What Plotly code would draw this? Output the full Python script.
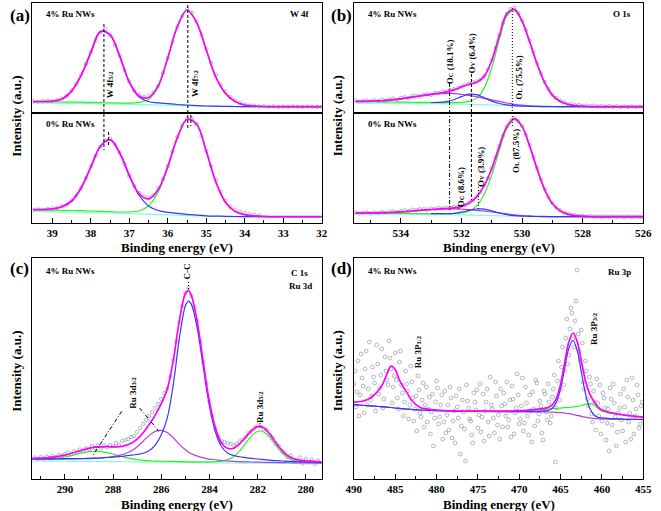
import plotly.graph_objects as go

# ======================= DATA =======================
# Intensities are in arbitrary units (a.u.)

# ---- (a) W 4f : fit grid (binding energy, eV)
a_fit_x = [39.5, 39.25, 39.0, 38.75, 38.5, 38.25, 38.0, 37.75, 37.5, 37.25, 37.0,
           36.75, 36.5, 36.25, 36.0, 35.75, 35.5, 35.25, 35.0, 34.75, 34.5, 34.25,
           34.0, 33.75, 33.5, 33.25, 33.0, 32.75, 32.5, 32.25, 32.0]
# 4% Ru NWs
a4_total = [11.3, 11.5, 11.9, 14.0, 21.9, 37.8, 60.6, 81.4, 78.1, 56.9, 30.9, 17.1, 15.5,
            27.1, 55.3, 86.5, 103.0, 90.4, 63.0, 35.8, 19.6, 11.5, 8.0, 7.0, 6.5, 6.3,
            6.3, 6.3, 6.3, 6.3, 6.3]
a4_w72 = [11.3, 11.2, 11.1, 11.0, 10.9, 10.8, 10.6, 10.4, 10.1, 9.9, 9.9, 10.6, 13.5, 26.3,
          55.0, 86.5, 103.0, 90.4, 63.0, 35.8, 19.6, 11.5, 8.0, 7.0, 6.5, 6.3, 6.3, 6.3,
          6.3, 6.3, 6.3]
a4_w52 = [None, None, None, 14.0, 21.9, 37.8, 60.6, 81.4, 78.1, 56.9, 30.7, 16.1, 11.5,
          10.1, 9.3, 8.5, 8.0, 7.4, 7.0, 6.8, 6.6, 6.5, 6.4, 6.4, 6.3, 6.3, 6.3, 6.3, 6.3,
          6.3, 6.3]
a4_base = [10.0, 9.9, 9.8, 9.7, 9.6, 9.5, 9.4, 9.2, 9.0, 8.8, 8.6, 8.4, 8.2, 8.0, 7.8, 7.5,
           7.2, 7.0, 6.8, 6.6, 6.5, 6.4, 6.3, 6.3, 6.3, 6.2, 6.2, 6.2, 6.2, 6.2, 6.2]
# 0% Ru NWs
a0_total = [13.3, 13.5, 14.1, 16.2, 22.0, 35.3, 56.0, 76.7, 83.3, 70.0, 47.7, 29.5, 24.1,
            33.5, 56.6, 85.6, 103.7, 98.8, 71.7, 40.9, 20.7, 11.5, 8.4, 7.1, 6.6, 6.3,
            6.3, 6.3, 6.3, 6.3, 6.3]
a0_w72 = [13.0, 12.9, 12.8, 12.7, 12.5, 12.3, 12.0, 11.7, 11.3, 11.0, 11.2, 12.0, 17.3,
          31.0, 55.6, 85.1, 103.5, 98.8, 71.7, 40.9, 20.7, 11.5, 8.4, 7.1, 6.6, 6.3, 6.3,
          6.3, 6.3, 6.3, 6.3]
a0_w52 = [None, None, None, 16.2, 22.0, 35.3, 56.0, 76.7, 83.3, 70.0, 47.2, 28.0, 17.1,
          12.5, 10.6, 9.6, 8.7, 7.8, 7.2, 6.9, 6.7, 6.5, 6.4, 6.3, 6.3, 6.3, 6.3, 6.3, 6.3,
          6.3, 6.3]
a0_base = [11.5, 11.4, 11.3, 11.2, 11.0, 10.8, 10.6, 10.3, 10.0, 9.7, 9.4, 9.1, 8.8, 8.5,
           8.2, 7.8, 7.4, 7.1, 6.8, 6.6, 6.4, 6.3, 6.2, 6.1, 6.0, 6.0, 6.0, 6.0, 6.0, 6.0, 6.0]
# measured points, every 0.125 eV from 39.5 eV
a_data_start = 39.5
a4_data = [11.6, 11.0, 11.8, 12.3, 11.7, 12.8, 14.5, 17.0, 22.5, 29.0,
           38.5, 49.0, 61.0, 72.0, 80.5, 84.0, 77.5, 68.0, 57.5, 43.0,
           31.5, 22.5, 18.0, 16.0, 17.0, 20.5, 27.0, 40.0, 55.0, 71.5,
           86.0, 97.0, 104.0, 100.0, 91.5, 78.0, 64.0, 50.0, 38.0, 28.5,
           21.5, 16.0, 12.5, 10.0, 8.5, 7.5, 7.2, 6.5, 6.8, 6.2,
           6.6, 6.0, 6.4, 6.1, 6.5, 6.2, 6.0, 6.4, 6.2, 6.0, 6.3]
a0_data = [12.8, 13.6, 13.2, 14.0, 14.6, 15.0, 16.8, 18.5, 22.5, 27.5,
           35.0, 45.0, 56.5, 67.0, 76.0, 82.5, 84.5, 78.5, 70.5, 59.0,
           47.0, 37.0, 30.0, 26.5, 25.5, 28.0, 34.5, 44.0, 57.0, 71.5,
           86.0, 97.5, 104.0, 104.5, 99.0, 87.0, 72.0, 57.0, 43.0, 31.5,
           22.5, 16.5, 13.5, 11.5, 10.0, 9.0, 8.2, 7.5]
a4_peaks = [37.66, 35.48]
a0_peaks = [37.54, 35.40]

# ---- (b) O 1s
b_fit_x = [535.5, 535.25, 535.0, 534.75, 534.5, 534.25, 534.0, 533.75, 533.5, 533.25,
           533.0, 532.75, 532.5, 532.25, 532.0, 531.75, 531.5, 531.25, 531.0, 530.75,
           530.5, 530.25, 530.0, 529.75, 529.5, 529.25, 529.0, 528.75, 528.5, 528.25,
           528.0, 527.75, 527.5, 527.25, 527.0, 526.75, 526.5, 526.25, 526.0]
b4_total = [11.7, 11.7, 11.9, 12.2, 12.6, 13.3, 14.2, 15.3, 16.5, 17.6,
            18.7, 19.7, 21.1, 23.1, 26.1, 28.8, 30.7, 36.6, 52.5, 77.4,
            99.4, 103.6, 92.1, 71.5, 48.8, 30.3, 17.9, 11.85, 8.8, 7.3,
            6.8, 6.5, 6.3, 6.3, 6.3, 6.3, 6.3, 6.3, 6.3]
b4_OL = [11.5, 11.4, 11.3, 11.2, 11.1, 11.0, 10.9, 10.8, 10.7, 10.6,
         10.5, 10.4, 10.4, 10.4, 10.6, 11.6, 14.9, 24.9, 45.3, 73.3,
         97.1, 102.2, 91.2, 71.0, 48.5, 30.15, 17.8, 11.85, 8.8, 7.3,
         6.8, 6.5, 6.3, 6.3, 6.3, 6.3, 6.3, 6.3, 6.3]
b4_OV = [None, None, None, None, None, None, None, None, None, None,
         10.5, 10.6, 11.4, 13.3, 16.4, 18.8, 18.4, 15.4, 11.9, 9.5,
         8.1, 7.3, 6.9, 6.7, 6.5, 6.45, 6.4, 6.35, 6.3, 6.3,
         6.3, 6.3, 6.3, 6.3, 6.3, 6.3, 6.3, 6.3, 6.3]
b4_OC = [11.7, 11.7, 11.9, 12.2, 12.6, 13.3, 14.2, 15.3, 16.5, 17.6,
         18.7, 19.3, 19.7, 19.4, 18.7, 17.6, 16.2, 14.7, 13.1, 11.6,
         10.0, 8.7, 7.8, 7.2, 6.8, 6.6, 6.5, 6.35, 6.3, 6.3,
         6.3, 6.3, 6.3, 6.3, 6.3, 6.3, 6.3, 6.3, 6.3]
b4_base = [10.0, 9.95, 9.9, 9.85, 9.8, 9.75, 9.7, 9.6, 9.5, 9.4,
           9.3, 9.2, 9.1, 9.0, 8.9, 8.7, 8.5, 8.3, 8.0, 7.7,
           7.3, 7.0, 6.7, 6.5, 6.4, 6.3, 6.3, 6.25, 6.2, 6.2,
           6.2, 6.2, 6.2, 6.2, 6.2, 6.2, 6.2, 6.2, 6.2]
b0_total = [9.9, 10.0, 10.1, 10.2, 10.4, 10.7, 11.1, 11.7, 12.3, 12.9,
            13.5, 13.9, 14.5, 15.1, 16.6, 19.9, 26.1, 37.3, 54.3, 76.6,
            96.4, 104.4, 96.6, 77.2, 53.9, 33.2, 19.4, 12.4, 8.9, 7.4,
            6.8, 6.5, 6.3, 6.3, 6.3, 6.3, 6.3, 6.3, 6.3]
b0_OL = [9.8, 9.8, 9.8, 9.75, 9.7, 9.65, 9.6, 9.55, 9.5, 9.45,
         9.4, 9.3, 9.4, 9.5, 10.0, 11.8, 17.1, 28.75, 48.1, 72.9,
         94.5, 103.3, 96.0, 76.8, 53.7, 33.05, 19.4, 12.35, 8.9, 7.4,
         6.8, 6.5, 6.3, 6.3, 6.3, 6.3, 6.3, 6.3, 6.3]
b0_OV = [None, None, None, None, None, None, None, None, None, None,
         9.4, 9.3, 9.35, 9.7, 10.8, 12.6, 14.0, 13.95, 12.2, 10.0,
         8.4, 7.45, 6.9, 6.7, 6.5, 6.45, 6.4, 6.35, 6.3, 6.3,
         6.3, 6.3, 6.3, 6.3, 6.3, 6.3, 6.3, 6.3, 6.3]
b0_OC = [9.9, 10.0, 10.05, 10.15, 10.4, 10.65, 11.1, 11.65, 12.3, 12.85,
         13.5, 13.9, 14.1, 14.1, 13.8, 13.3, 12.6, 11.85, 11.0, 10.1,
         9.1, 8.2, 7.5, 7.05, 6.7, 6.55, 6.4, 6.35, 6.3, 6.3,
         6.3, 6.3, 6.3, 6.3, 6.3, 6.3, 6.3, 6.3, 6.3]
b0_base = [9.0, 9.0, 8.95, 8.9, 8.85, 8.8, 8.75, 8.7, 8.65, 8.6,
           8.5, 8.4, 8.3, 8.2, 8.1, 7.95, 7.8, 7.6, 7.4, 7.2,
           7.0, 6.8, 6.6, 6.45, 6.35, 6.3, 6.25, 6.2, 6.2, 6.2,
           6.2, 6.2, 6.2, 6.2, 6.2, 6.2, 6.2, 6.2, 6.2]
b_data_start = 535.5
b4_data = [12.5, 11.2, 12.0, 12.6, 11.4, 12.8, 12.0, 13.4, 12.2, 13.8,
           14.5, 13.2, 15.0, 15.8, 14.8, 16.9, 17.5, 16.4, 18.5, 19.0,
           18.2, 20.0, 19.8, 21.5, 21.0, 23.0, 23.8, 24.8, 26.5, 28.3,
           29.5, 30.8, 31.5, 33.0, 37.0, 43.5, 53.0, 65.0, 78.0, 90.0,
           99.0, 104.0, 105.0, 100.0, 92.5, 83.0, 72.5, 61.0, 49.5, 39.5,
           31.0, 24.0, 18.5, 15.0, 12.5, 10.8, 9.2, 8.8, 7.8, 7.9,
           7.2, 7.5, 6.9, 7.4, 6.6, 7.2, 6.5, 7.0, 6.2, 6.8,
           5.9, 6.6, 6.0, 6.7, 5.8, 6.4, 6.1]
b0_data = [10.5, 9.4, 10.2, 10.8, 9.6, 10.6, 10.0, 11.0, 10.3, 11.2,
           11.5, 10.8, 12.0, 12.6, 12.2, 13.3, 13.0, 13.8, 14.0, 13.5,
           14.5, 14.2, 15.0, 14.6, 15.4, 15.0, 16.0, 16.2, 17.2, 18.0,
           20.5, 22.5, 26.5, 31.0, 37.5, 45.0, 54.5, 65.5, 77.0, 87.5,
           96.5, 102.5, 105.0, 102.0, 97.0, 88.0, 78.0, 66.0, 55.0, 43.5,
           34.0, 26.0, 20.0, 15.5, 12.8, 10.5, 9.4, 8.2, 7.9, 7.2,
           7.3, 6.6, 7.0, 6.4, 6.8, 6.0, 6.6, 6.2, 6.9, 6.1,
           6.5, 5.8, 6.6, 6.0, 6.4, 5.9, 6.3]
b4_peaks = [532.39, 531.67, 530.32]          # O_C, O_V, O_L
b0_peaks = [532.09, 531.44, 530.24]
b4_labels = [("O", "C", " (18.1%)"), ("O", "V", " (6.4%)"), ("O", "L", " (75.5%)")]
b0_labels = [("O", "C", " (8.6%)"), ("O", "V", " (3.9%)"), ("O", "L", " (87.5%)")]

# ---- (c) C 1s / Ru 3d
c_fit_x = [291.5, 291.25, 291.0, 290.75, 290.5, 290.25, 290.0, 289.75, 289.5, 289.25,
           289.0, 288.75, 288.5, 288.25, 288.0, 287.75, 287.5, 287.25, 287.0, 286.75,
           286.5, 286.25, 286.0, 285.75, 285.5, 285.25, 285.0, 284.875, 284.75, 284.5,
           284.25, 284.0, 283.75, 283.5, 283.25, 283.0, 282.75, 282.5, 282.25, 282.0,
           281.75, 281.5, 281.25, 281.0, 280.75, 280.5, 280.25, 280.0, 279.75, 279.5,
           279.25]
c_total = [20.5, 20.6, 20.9, 21.2, 21.8, 22.6, 23.9, 25.5, 27.3, 29.0,
           30.7, 31.8, 32.2, 32.3, 32.1, 32.3, 33.4, 35.7, 39.9, 46.2,
           54.4, 63.9, 75.3, 89.9, 118.8, 158.1, 185.5, 188.4, 183.5, 156.4,
           115.9, 77.0, 50.9, 36.0, 30.7, 30.8, 35.1, 41.8, 48.5, 52.4,
           51.2, 45.1, 36.7, 28.9, 23.2, 20.2, 18.9, 18.2, 17.8, 17.4,
           17.2]
c_CC = [20.1, 20.1, 20.1, 20.15, 20.2, 20.25, 20.3, 20.35, 20.5, 20.5,
        20.7, 20.9, 21.1, 21.5, 21.9, 22.3, 23.1, 23.8, 24.5, 25.7,
        28.4, 33.9, 44.3, 61.1, 94.7, 140.4, 173.0, 177.9, 174.6, 149.8,
        110.9, 72.9, 47.05, 32.5, 26.05, 23.5, 22.25, 21.4, 20.65, 20.0,
        19.45, 18.9, 18.35, 18.0, 17.65, 17.3, 17.2, 16.95, 16.8, 16.7,
        16.6]
c_Ru32 = [19.9, 19.9, 19.9, 19.9, 19.9, 19.9, 20.0, 20.05, 20.1, 20.25,
          20.35, 20.65, 21.0, 21.6, 22.3, 23.55, 25.3, 28.0, 32.3, 37.8,
          43.6, 47.6, 48.6, 46.4, 41.3, 34.6, 29.2, 27.1, 25.3, 22.9,
          21.1, 19.9, 19.25, 18.5, 18.05, 17.6, 17.35, 17.15, 17.0, 16.85,
          16.7, 16.6, 16.5, 16.35, 16.25, 16.2, 16.15, 16.05, 16.0, 15.95,
          15.95]
c_green = [19.55, 19.55, 19.63, 19.85, 20.26, 20.96, 22.0, 23.35, 24.9, 26.3,
           27.4, 27.8, 27.46, 26.4, 24.9, 23.2, 21.6, 20.3, 19.3, 18.65,
           18.2, 17.95, 17.75, 17.6, 17.6, 17.45, 17.3, 17.2, 17.15, 17.1,
           17.1, 17.2, 17.45, 17.8, 19.25, 22.3, 27.95, 35.6, 43.15, 47.7,
           47.05, 41.6, 33.75, 26.3, 20.95, 18.4, 17.2, 16.75, 16.4, 16.2,
           16.1]
c_base = [18.0, 18.0, 17.95, 17.9, 17.85, 17.8, 17.75, 17.7, 17.65, 17.6,
          17.55, 17.5, 17.45, 17.4, 17.35, 17.3, 17.25, 17.2, 17.15, 17.1,
          17.05, 17.0, 16.95, 16.9, 16.8, 16.7, 16.6, 16.55, 16.5, 16.4,
          16.3, 16.2, 16.15, 16.1, 16.05, 16.0, 15.95, 15.9, 15.85, 15.8,
          15.75, 15.7, 15.65, 15.6, 15.55, 15.5, 15.45, 15.4, 15.35, 15.3,
          15.3]
c_data_start = 291.25
c_data = [21.5, 19.8, 22.0, 20.5, 22.4, 21.0, 23.0, 21.8, 24.2, 23.0,
          24.8, 26.5, 24.6, 27.8, 26.5, 29.5, 28.2, 30.8, 29.6, 33.0,
          31.0, 33.8, 31.2, 33.5, 31.6, 34.0, 32.8, 36.0, 34.0, 38.0,
          39.0, 40.0, 42.0, 43.0, 47.0, 51.0, 55.0, 59.0, 63.0, 67.0,
          71.0, 75.0, 80.0, 86.0, 90.0, 102.0, 119.0, 138.0, 157.0, 173.0,
          186.0, 191.0, 183.0, 171.0, 158.0, 137.0, 117.0, 96.0, 78.0, 63.0,
          50.0, 42.0, 38.0, 37.0, 36.0, 35.0, 33.5, 35.0, 37.5, 39.0,
          42.0, 46.0, 48.0, 51.0, 53.5, 52.5, 50.0, 49.0, 44.0, 41.0,
          35.5, 33.0, 28.0, 26.5, 22.0, 23.5, 19.0, 17.0, 21.5, 15.5,
          20.0, 16.5, 19.5, 15.0, 18.5]
c_peaks = [284.87, 281.9]      # C-C, Ru 3d5/2

# ---- (d) Ru 3p
d_fit_x = [490, 489, 488, 487.5, 487, 486.5, 486, 485.5, 485, 484.5,
           484, 483.5, 483, 482, 481, 480, 478, 476, 474, 472,
           470, 468, 467, 466.5, 466, 465.5, 465, 464.5, 464, 463.5,
           463, 462.5, 462, 461.5, 461, 460.5, 460, 459, 458, 457,
           456, 455]
d_total = [76.8, 77.7, 81.1, 84.3, 89.0, 95.2, 104.9, 113.0, 109.5, 99.1,
           91.7, 85.3, 78.5, 71.5, 69.8, 69.0, 68.2, 67.9, 67.8, 67.9,
           68.3, 69.7, 70.7, 71.5, 74.1, 80.6, 94.9, 116.2, 136.9, 146.0,
           137.9, 118.4, 98.7, 85.7, 78.0, 72.3, 68.9, 66.4, 64.9, 63.7,
           62.7, 61.9]
d_p32 = [74.3, 73.7, 73.1, 72.8, 72.5, 72.2, 71.9, 71.5, 71.0, 70.6,
         70.2, 69.8, 69.5, 69.0, 68.6, 68.3, 67.9, 67.7, 67.5, 67.4,
         67.3, 67.7, 68.1, 68.5, 70.7, 76.7, 90.4, 110.9, 130.6, 138.5,
         128.9, 107.6, 85.9, 71.2, 64.5, 61.8, 61.1, 60.4, 60.1, 59.7,
         59.6, 59.5]
d_sat = [None, None, None, None, None, None, None, None, None, None,
         None, None, None, None, None, None, None, 67.8, 67.8, 67.9,
         68.3, 69.2, 69.7, 70.0, 70.3, 70.6, 70.9, 71.3, 71.6, 72.0,
         72.6, 73.5, 74.7, 75.7, 74.2, 70.8, 67.9, 65.9, 64.6, 63.7,
         62.7, 61.9]
d_base = [74.3, 73.7, 73.1, 72.8, 72.5, 72.2, 71.9, 71.5, 71.0, 70.6,
          70.2, 69.8, 69.5, 69.0, 68.6, 68.3, 67.9, 67.7, 67.5, 67.4,
          67.3, 67.2, 67.1, 67.0, 66.9, 66.7, 66.4, 66.0, 65.3, 64.5,
          63.6, 62.7, 61.9, 61.2, 60.7, 60.3, 60.1, 59.9, 59.8, 59.7,
          59.6, 59.5]
d_data_start = 490.0
d_data = [95, 108, 72, 87, 118, 63, 84, 125, 101, 93, 66, 110, 128, 74, 90, 137,
          79, 83, 112, 102, 96, 68, 134, 115, 85, 91, 104, 130, 71, 80, 122, 108,
          99, 94, 138, 121, 110, 76, 92, 103, 126, 99, 81, 70, 117, 128, 94, 86,
          63, 77, 108, 95, 88, 60, 74, 113, 97, 81, 58, 70, 83, 48, 103, 89,
          66, 62, 79, 96, 52, 74, 92, 57, 70, 82, 45, 67, 85, 33, 61, 77,
          98, 91, 55, 62, 74, 84, 40, 57, 88, 46, 64, 74, 49, 92, 81, 41,
          58, 68, 36, 83, 72, 61, 90, 25, 53, 79, 67, 50, 18, 94, 78, 71,
          60, 58, 44, 36, 86, 77, 69, 89, 51, 64, 95, 47, 62, 85, 38, 68,
          77, 90, 57, 43, 102, 74, 70, 61, 46, 97, 83, 54, 64, 40, 90, 73,
          52, 86, 75, 63, 97, 52, 59, 79, 42, 93, 80, 45, 66, 71, 105, 84,
          55, 60, 73, 101, 48, 56, 92, 76, 63, 44, 84, 68, 37, 87, 70, 53,
          99, 96, 58, 65, 78, 73, 46, 39, 88, 85, 67, 59, 95, 77, 56, 63,
          82, 90, 104, 17, 71, 98, 118, 79, 89, 112, 132, 94, 108, 141, 160, 115,
          124, 150, 171, 166, 140, 132, 158, 178, 209, 145, 128, 119, 149, 136, 97, 90,
          118, 108, 80, 73, 102, 95, 65, 57, 88, 77, 49, 100, 76, 63, 94, 45,
          58, 86, 81, 71, 39, 56, 70, 28, 91, 80, 54, 95, 76, 62, 33, 47,
          66, 71, 85, 59, 48, 90, 72, 37, 99, 82, 57, 66, 40, 101, 79, 45,
          63, 70, 94, 84, 51, 55, 73, 77, 60]
d_peaks = [485.37, 463.5]
DATA_STEP = 0.125

for fx, ys in [(a_fit_x, [a4_total, a4_w72, a4_w52, a4_base, a0_total, a0_w72, a0_w52, a0_base]),
               (b_fit_x, [b4_total, b4_OL, b4_OV, b4_OC, b4_base, b0_total, b0_OL, b0_OV, b0_OC, b0_base]),
               (c_fit_x, [c_total, c_CC, c_Ru32, c_green, c_base]),
               (d_fit_x, [d_total, d_p32, d_sat, d_base])]:
    for y in ys:
        assert len(y) == len(fx), (len(y), len(fx))

# ======================= STYLE =======================
W, H = 661, 511
FONT = "Liberation Serif"
MAG, GRN, BLU, VIO, CYN, DOT = "#ff00ff", "#33ee22", "#3636ff", "#b440dc", "#7fffd4", "#909aa4"


def PX(x):
    return x / W


def PY(y):
    return 1 - y / H


def sub(t):
    # small subscript-like text without baseline-reset helper glyphs
    return '<span style="font-size:6.5px">' + t + '</span>'


fig = go.Figure()


def add_line(xs, ys, color, ax, width=1.2):
    fig.add_trace(go.Scatter(x=xs, y=ys, mode="lines", xaxis=ax[0], yaxis=ax[1],
                             line=dict(color=color, width=width, shape="spline", smoothing=1.0),
                             connectgaps=False, hoverinfo="skip", showlegend=False))


def add_points(start, ys, ax, size=3.4):
    xs = [start - DATA_STEP * i for i in range(len(ys))]
    fig.add_trace(go.Scatter(x=xs, y=ys, mode="markers", xaxis=ax[0], yaxis=ax[1],
                             marker=dict(symbol="circle-open", size=size, color=DOT,
                                         line=dict(width=0.7, color=DOT)),
                             hoverinfo="skip", showlegend=False))


AX_A4, AX_A0, AX_B4, AX_B0, AX_C, AX_D = ("x", "y"), ("x2", "y2"), ("x3", "y3"), ("x4", "y4"), ("x5", "y5"), ("x6", "y6")

# (a)
add_points(a_data_start, a4_data, AX_A4)
add_line(a_fit_x, a4_base, CYN, AX_A4)
add_line(a_fit_x, a4_w72, GRN, AX_A4)
add_line(a_fit_x, a4_w52, BLU, AX_A4)
add_line(a_fit_x, a4_total, MAG, AX_A4, 1.7)
add_points(a_data_start, a0_data, AX_A0)
add_line(a_fit_x, a0_base, CYN, AX_A0)
add_line(a_fit_x, a0_w72, GRN, AX_A0)
add_line(a_fit_x, a0_w52, BLU, AX_A0)
add_line(a_fit_x, a0_total, MAG, AX_A0, 1.7)
# (b)
add_points(b_data_start, b4_data, AX_B4)
add_line(b_fit_x, b4_base, CYN, AX_B4)
add_line(b_fit_x, b4_OL, GRN, AX_B4)
add_line(b_fit_x, b4_OC, VIO, AX_B4)
add_line(b_fit_x, b4_OV, BLU, AX_B4)
add_line(b_fit_x, b4_total, MAG, AX_B4, 1.7)
add_points(b_data_start, b0_data, AX_B0)
add_line(b_fit_x, b0_base, CYN, AX_B0)
add_line(b_fit_x, b0_OL, GRN, AX_B0)
add_line(b_fit_x, b0_OC, VIO, AX_B0)
add_line(b_fit_x, b0_OV, BLU, AX_B0)
add_line(b_fit_x, b0_total, MAG, AX_B0, 1.7)
# (c)
add_points(c_data_start, c_data, AX_C)
add_line(c_fit_x, c_base, CYN, AX_C)
add_line(c_fit_x, c_green, GRN, AX_C)
add_line(c_fit_x, c_Ru32, VIO, AX_C)
add_line(c_fit_x, c_CC, BLU, AX_C)
add_line(c_fit_x, c_total, MAG, AX_C, 1.7)
# (d)
add_points(d_data_start, d_data, AX_D, 3.8)
add_line(d_fit_x, d_base, VIO, AX_D)
add_line(d_fit_x, d_sat, GRN, AX_D)
add_line(d_fit_x, d_p32, BLU, AX_D)
add_line(d_fit_x, d_total, MAG, AX_D, 1.7)

# ---- axes
LX = [PX(25), PX(322)]
RX = [PX(355), PX(652)]
TOP = [PY(113), PY(3)]
MID = [PY(223), PY(113)]
ROW2 = [PY(479), PY(258)]
base_ax = dict(showgrid=False, zeroline=False, showline=True, linecolor="black",
               linewidth=1.3, mirror=True)
tickfont = dict(family=FONT, size=11, color="black", weight="bold")


def xax(dom, rng, anchor, dtick=None, minor=None, labels=True):
    d = dict(base_ax, domain=dom, range=rng, anchor=anchor)
    if labels:
        d.update(ticks="inside", ticklen=5, tickwidth=1.2, tickcolor="black",
                 tick0=0, dtick=dtick, showticklabels=True, tickfont=tickfont,
                 minor=dict(ticks="inside", ticklen=3, tickwidth=1, tickcolor="black",
                            tick0=0, dtick=minor))
    else:
        d.update(ticks="", showticklabels=False)
    return d


def yax(dom, rng, anchor):
    return dict(base_ax, domain=dom, range=rng, anchor=anchor, ticks="", showticklabels=False)


A_RANGE = [39.52, 32.0]
B_RANGE = [535.55, 526.0]
C_RANGE = [291.35, 279.34]
D_RANGE = [490.0, 455.0]

fig.update_layout(
    xaxis=xax(LX, A_RANGE, "y", labels=False),
    yaxis=yax(TOP, [0, 110], "x"),
    xaxis2=xax(LX, A_RANGE, "y2", 1, 0.5),
    yaxis2=yax(MID, [0, 110], "x2"),
    xaxis3=xax(RX, B_RANGE, "y3", labels=False),
    yaxis3=yax(TOP, [0, 110], "x3"),
    xaxis4=xax(RX, B_RANGE, "y4", 2, 1),
    yaxis4=yax(MID, [0, 110], "x4"),
    xaxis5=xax(LX, C_RANGE, "y5", 2, 1),
    yaxis5=yax(ROW2, [0, 221], "x5"),
    xaxis6=xax(RX, D_RANGE, "y6", 5, 2.5),
    yaxis6=yax(ROW2, [0, 221], "x6"),
)

# ---- texts
ann = []


def text(t, x, y, size, angle=0, xanchor="center"):
    ann.append(dict(text=t, x=PX(x), y=PY(y), xref="paper", yref="paper", showarrow=False,
                    xanchor=xanchor, yanchor="middle", textangle=angle,
                    font=dict(family=FONT, size=size, color="black", weight="bold")))


for t, x, y in [("(a)", 12, 15), ("(b)", 342, 15), ("(c)", 12, 268), ("(d)", 342, 268)]:
    text(t, x, y, 17)
for t, x, y in [("4% Ru NWs", 37, 14), ("0% Ru NWs", 37, 124), ("4% Ru NWs", 367, 14),
                ("0% Ru NWs", 367, 124), ("4% Ru NWs", 37, 271), ("4% Ru NWs", 367, 271)]:
    text(t, x, y, 9, xanchor="left")
for t, x, y in [("W 4f", 312, 14), ("O 1s", 642, 14), ("Ru 3p", 642, 272)]:
    text(t, x, y, 9, xanchor="right")
text("C 1s", 299, 273, 9)
text("Ru 3d", 300, 286, 9)
for x, y in [(173.5, 247), (503.5, 247), (173.5, 504), (503.5, 504)]:
    text("Binding energy (eV)", x, y, 13)
for x, y in [(8, 116), (338, 116), (8, 371), (338, 371)]:
    text("Intensity (a.u.)", x, y, 13, angle=-90)


def olab(parts):
    return parts[0] + sub(parts[1]) + parts[2]


for t, x, y in [("W 4f" + sub("5/2"), 105, 85), ("W 4f" + sub("7/2"), 192, 84),
                (olab(b4_labels[0]), 453.3, 61.5), (olab(b4_labels[1]), 476.2, 53.5),
                (olab(b4_labels[2]), 523.7, 77.5),
                (olab(b0_labels[0]), 464.7, 187.5), (olab(b0_labels[1]), 484.7, 166.7),
                (olab(b0_labels[2]), 521.7, 150.8),
                ("C-C", 184.2, 271), ("Ru 3d" + sub("3/2"), 128, 393), ("Ru 3d" + sub("5/2"), 258.7, 407),
                ("Ru 3P" + sub("1/2"), 421, 352), ("Ru 3P" + sub("3/2"), 601.5, 329)]:
    text(t, x, y, 9, angle=-90)

# ---- guide lines at the peak positions
shapes = []


def vline(xval, xref, y0, y1, dash):
    shapes.append(dict(type="line", xref=xref, yref="paper", x0=xval, x1=xval,
                       y0=PY(y0), y1=PY(y1), line=dict(color="black", width=1, dash=dash)))


DASH, DOTS, DASHDOT = "3px,2px", "1px,2px", "4px,2px,1px,2px"
vline(a4_peaks[0], "x", 24, 150, DASH)
vline(a4_peaks[1], "x", 5, 128, DASH)
vline(a0_peaks[0], "x", 132, 147, DASH)
vline(a0_peaks[1], "x", 115, 126, DASH)
vline(b4_peaks[0], "x3", 83, 210, DASHDOT)
vline(b4_peaks[1], "x3", 74, 200, DASH)
vline(b4_peaks[2], "x3", 8, 128, DOTS)
vline(b0_peaks[0], "x3", 205, 211, DOTS)
vline(b0_peaks[1], "x3", 187, 210, DOTS)
vline(c_peaks[0], "x5", 282, 290, DOTS)
vline(c_peaks[1], "x5", 423, 427, DOTS)
# Ru 3d3/2 pointers
for (xa, ya), (xb, yb) in [((287.64, 67.7), (288.86, 22.7)), ((286.9, 71.0), (286.1, 47.7))]:
    shapes.append(dict(type="line", xref="x5", yref="y5", x0=xa, y0=ya, x1=xb, y1=yb,
                       line=dict(color="black", width=1, dash=DASHDOT)))

fig.update_layout(annotations=ann, shapes=shapes, width=W, height=H, autosize=False,
                  margin=dict(l=0, r=0, t=0, b=0, pad=0),
                  paper_bgcolor="white", plot_bgcolor="white", showlegend=False,
                  hovermode=False)

fig.write_html("out.html", config={"displayModeBar": False, "responsive": False},
               post_script="document.body.style.margin='0';document.body.style.overflow='hidden';")
